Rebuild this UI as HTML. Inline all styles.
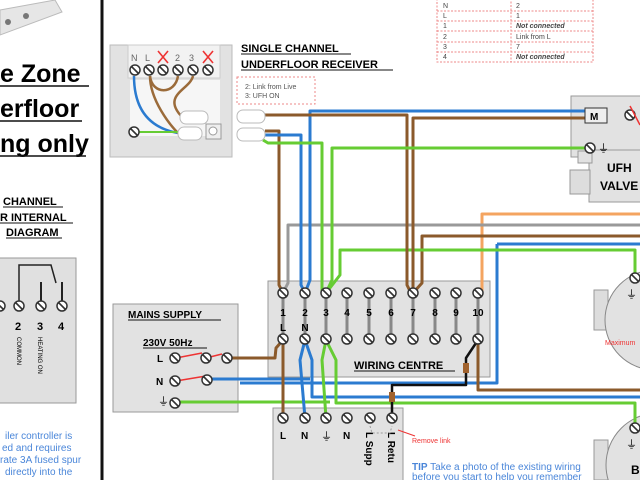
<!DOCTYPE html>
<html><head><meta charset="utf-8"><style>
html,body{margin:0;background:#fff;overflow:hidden;width:640px;height:480px}
svg{display:block}
text{font-family:"Liberation Sans",sans-serif}
</style></head><body>
<svg width="640" height="480" viewBox="0 0 640 480" xmlns="http://www.w3.org/2000/svg">
<defs>
<g id="sc"><circle r="5" fill="#fff" stroke="#333" stroke-width="1.5"/><line x1="-3.5" y1="-3.5" x2="3.5" y2="3.5" stroke="#333" stroke-width="1.6"/></g>
</defs>
<polygon points="0,10 55,0 62,12 0,35" fill="#e6e6e6" stroke="#bbb"/>
<circle cx="8" cy="22" r="3" fill="#777"/><circle cx="26" cy="16" r="3" fill="#777"/>
<line x1="102" y1="0" x2="102" y2="480" stroke="#111" stroke-width="3"/>
<g font-size="25" font-weight="bold">
<text x="0" y="82">e Zone</text>
<text x="0" y="117">erfloor</text>
<text x="0" y="152">ng only</text>
</g>
<line x1="0" y1="86" x2="89" y2="86" stroke="#111" stroke-width="1.5"/>
<line x1="0" y1="121" x2="82" y2="121" stroke="#111" stroke-width="1.5"/>
<line x1="0" y1="156" x2="86" y2="156" stroke="#111" stroke-width="1.5"/>
<g font-size="11" font-weight="bold">
<text x="3" y="205">CHANNEL</text><text x="0" y="221">R INTERNAL</text><text x="6" y="236">DIAGRAM</text>
</g>
<line x1="3" y1="207" x2="63" y2="207" stroke="#111"/><line x1="0" y1="223" x2="73" y2="223" stroke="#111"/><line x1="6" y1="238" x2="62" y2="238" stroke="#111"/>
<rect x="-2" y="258" width="78" height="145" fill="#e0e0e0" stroke="#999"/>
<polyline points="19,305 19,265 51,265 56,283" fill="none" stroke="#222" stroke-width="1.5"/>
<line x1="41" y1="305" x2="41" y2="282" stroke="#222" stroke-width="2"/><line x1="62" y1="305" x2="62" y2="282" stroke="#222" stroke-width="2"/>
<use href="#sc" x="0" y="306"/><use href="#sc" x="19" y="306"/><use href="#sc" x="41" y="306"/><use href="#sc" x="62" y="306"/>
<g font-size="11" font-weight="bold"><text x="15" y="330">2</text><text x="37" y="330">3</text><text x="58" y="330">4</text></g>
<text font-size="6" transform="translate(17,337) rotate(90)">COMMON</text>
<text font-size="6" transform="translate(38,337) rotate(90)">HEATING ON</text>
<g font-size="10" fill="#4a86d9"><text x="5" y="439">iler controller is</text><text x="2" y="451">ed and requires</text><text x="0" y="463">rate 3A fused spur</text><text x="5" y="475">directly into the</text></g>
<!-- receiver -->
<rect x="110" y="45" width="122" height="112" fill="#e2e2e2" stroke="#bbb"/>
<rect x="128" y="45" width="92" height="33" fill="#f2f2f2" stroke="#ccc"/>
<rect x="130" y="80" width="90" height="56" fill="#f6f6f6"/>
<g font-size="9" fill="#666"><text x="131" y="61">N</text><text x="145" y="61">L</text><text x="175" y="61">2</text><text x="189" y="61">3</text></g>
<g stroke="#e33" stroke-width="1.6"><line x1="158" y1="51" x2="168" y2="63"/><line x1="168" y1="51" x2="158" y2="63"/><line x1="203" y1="51" x2="213" y2="63"/><line x1="213" y1="51" x2="203" y2="63"/></g>
<use href="#sc" x="135" y="70"/><use href="#sc" x="149" y="70"/><use href="#sc" x="163" y="70"/><use href="#sc" x="178" y="70"/><use href="#sc" x="193" y="70"/><use href="#sc" x="208" y="70"/>
<path d="M134,76 C134,110 150,128 178,133" fill="none" stroke="#2b7bd0" stroke-width="2.5"/>
<path d="M150,76 C150,100 170,125 178,133" fill="none" stroke="#9b6b3a" stroke-width="2.5"/>
<path d="M150,76 C152,95 175,95 178,76" fill="none" stroke="#9b6b3a" stroke-width="2.5"/>
<path d="M193,76 C190,90 160,95 183,118" fill="none" stroke="#9b6b3a" stroke-width="2.5"/>
<line x1="138" y1="132" x2="178" y2="132" stroke="#6c3" stroke-width="2"/>
<use href="#sc" x="134" y="132"/>
<rect x="180" y="111" width="28" height="13" rx="6" fill="#fff" stroke="#bbb"/>
<rect x="178" y="127" width="24" height="13" rx="6" fill="#fff" stroke="#bbb"/>
<rect x="206" y="124" width="15" height="15" fill="#eee" stroke="#999"/><circle cx="213" cy="131" r="4" fill="#fff" stroke="#999"/>
<g font-size="11" font-weight="bold"><text x="241" y="52">SINGLE CHANNEL</text><text x="241" y="68">UNDERFLOOR RECEIVER</text></g>
<line x1="241" y1="54" x2="351" y2="54" stroke="#111"/><line x1="241" y1="70" x2="393" y2="70" stroke="#111"/>
<rect x="237" y="77" width="78" height="27" fill="#fff" stroke="#e88" stroke-dasharray="2,2"/>
<g font-size="7" fill="#555"><text x="245" y="89">2: Link from Live</text><text x="245" y="98">3: UFH ON</text></g>
<!-- table -->
<g stroke="#e88" stroke-dasharray="2,1.5" fill="none"><rect x="437" y="-2" width="156" height="64"/><line x1="511" y1="-2" x2="511" y2="62"/>
<line x1="437" y1="11" x2="593" y2="11"/><line x1="437" y1="21" x2="593" y2="21"/><line x1="437" y1="31" x2="593" y2="31"/><line x1="437" y1="42" x2="593" y2="42"/><line x1="437" y1="52" x2="593" y2="52"/></g>
<g font-size="7" fill="#444"><text x="443" y="8">N</text><text x="516" y="8">2</text><text x="443" y="18">L</text><text x="516" y="18">1</text><text x="443" y="28">1</text><text x="516" y="28" font-style="italic" font-weight="bold">Not connected</text><text x="443" y="39">2</text><text x="516" y="39">Link from L</text><text x="443" y="49">3</text><text x="516" y="49">7</text><text x="443" y="59">4</text><text x="516" y="59" font-style="italic" font-weight="bold">Not connected</text></g>
<!-- UFH valve -->
<rect x="571" y="96" width="75" height="61" fill="#e2e2e2" stroke="#999"/>
<rect x="589" y="150" width="57" height="52" fill="#e2e2e2" stroke="#999"/>
<rect x="578" y="151" width="14" height="12" fill="#e2e2e2" stroke="#999"/>
<rect x="570" y="170" width="20" height="24" fill="#ddd" stroke="#999"/>
<use href="#sc" x="630" y="115"/><line x1="630" y1="106" x2="640" y2="125" stroke="#e33" stroke-width="1.5"/>
<g font-size="12" font-weight="bold"><text x="607" y="172">UFH</text><text x="600" y="190">VALVE</text></g>
<!-- boxes -->
<rect x="268" y="281" width="222" height="96" fill="#e2e2e2" stroke="#999"/>
<g stroke="#888" stroke-width="3"><line x1="283" y1="295" x2="283" y2="338"/><line x1="305" y1="295" x2="305" y2="338"/><line x1="326" y1="295" x2="326" y2="338"/><line x1="347" y1="295" x2="347" y2="338"/><line x1="369" y1="295" x2="369" y2="338"/><line x1="391" y1="295" x2="391" y2="338"/><line x1="413" y1="295" x2="413" y2="338"/><line x1="435" y1="295" x2="435" y2="338"/><line x1="456" y1="295" x2="456" y2="338"/><line x1="478" y1="295" x2="478" y2="338"/></g>
<rect x="113" y="304" width="125" height="108" fill="#e2e2e2" stroke="#999"/>
<text x="128" y="318" font-size="10" font-weight="bold">MAINS SUPPLY</text><line x1="128" y1="320" x2="221" y2="320" stroke="#111"/>
<text x="143" y="346" font-size="10" font-weight="bold">230V 50Hz</text><line x1="143" y1="348" x2="207" y2="348" stroke="#111"/>
<g font-size="10" font-weight="bold"><text x="157" y="362">L</text><text x="156" y="385">N</text></g>
<text x="158" y="405" font-size="11">⏚</text>
<line x1="176" y1="358" x2="202" y2="353" stroke="#e33" stroke-width="1.5"/><line x1="206" y1="358" x2="222" y2="354" stroke="#e33" stroke-width="1.5"/>
<line x1="176" y1="381" x2="206" y2="376" stroke="#e33" stroke-width="1.5"/>
<rect x="273" y="408" width="130" height="75" fill="#e2e2e2" stroke="#999"/>
<rect x="594" y="290" width="14" height="40" fill="#ddd" stroke="#999"/>
<circle cx="655" cy="320" r="50" fill="#e2e2e2" stroke="#888"/>
<rect x="594" y="440" width="14" height="40" fill="#ddd" stroke="#999"/>
<circle cx="658" cy="465" r="52" fill="#e2e2e2" stroke="#888"/>
<!-- wires -->
<g fill="none" stroke-width="3" stroke-linejoin="round">
<polyline stroke="#f4a460" points="482,293 482,214 640,214"/>
<polyline stroke="#999" points="283,293 288,283 288,225 640,225"/>
<polyline stroke="#8b5a2b" points="413,293 422,283 422,236 640,236"/>
<polyline stroke="#2b7bd0" points="497,244 640,244"/>
<polyline stroke="#2b7bd0" points="240,383 497,383 497,244"/>
<polyline stroke="#6c3" points="326,293 340,275 340,250 635,250 635,275"/>
<polyline stroke="#2b7bd0" points="305,293 310,280 310,111 585,111"/>
<polyline stroke="#8b5a2b" points="265,115 407,115 407,285 411,293"/>
<polyline stroke="#8b5a2b" points="413,293 413,118 585,118"/>
<polyline stroke="#8b5a2b" points="265,131 279,131 279,285 283,293"/>
<polyline stroke="#2b7bd0" points="263,135 301,135 301,285 305,293"/>
<polyline stroke="#6c3" points="263,140 268,143 322,143 322,293"/>
<polyline stroke="#6c3" points="326,293 332,280 332,148 590,148"/>
<polyline stroke="#8b5a2b" points="230,358 275,358 276,348 283,340"/>
<polyline stroke="#2b7bd0" points="210,379 310,379"/>
<polyline stroke="#6c3" points="180,402 330,402"/>
<polyline stroke="#2b7bd0" points="305,340 312,360 312,397 640,397"/>
<polyline stroke="#6c3" points="326,340 336,360 336,403 635,403 635,425"/>
<polyline stroke="#8b5a2b" points="283,340 283,418"/>
<polyline stroke="#2b7bd0" points="305,340 300,360 305,418"/>
<polyline stroke="#6c3" points="326,340 322,360 326,418"/>
<polyline stroke="#8b5a2b" points="478,340 478,390 640,390"/>
<polyline stroke="#111" stroke-width="2.5" points="478,340 466,358 466,385 392,385 392,418"/>
</g>
<rect x="180" y="111" width="28" height="13" rx="6" fill="#fff" stroke="#bbb" opacity="0"/>
<rect x="237" y="110" width="28" height="13" rx="6" fill="#fff" stroke="#bbb"/>
<rect x="237" y="128" width="28" height="13" rx="6" fill="#fff" stroke="#bbb"/>
<rect x="585" y="108" width="22" height="15" fill="#eee" stroke="#333"/><text x="590" y="120" font-size="10" font-weight="bold">M</text>
<rect x="463" y="363" width="6" height="10" fill="#a0622d"/><rect x="389" y="392" width="6" height="10" fill="#a0622d"/>
<g>
<use href="#sc" x="283" y="293"/><use href="#sc" x="305" y="293"/><use href="#sc" x="326" y="293"/><use href="#sc" x="347" y="293"/><use href="#sc" x="369" y="293"/><use href="#sc" x="391" y="293"/><use href="#sc" x="413" y="293"/><use href="#sc" x="435" y="293"/><use href="#sc" x="456" y="293"/><use href="#sc" x="478" y="293"/>
<use href="#sc" x="283" y="339"/><use href="#sc" x="305" y="339"/><use href="#sc" x="326" y="339"/><use href="#sc" x="347" y="339"/><use href="#sc" x="369" y="339"/><use href="#sc" x="391" y="339"/><use href="#sc" x="413" y="339"/><use href="#sc" x="435" y="339"/><use href="#sc" x="456" y="339"/><use href="#sc" x="478" y="339"/>
</g>
<g font-size="10" font-weight="bold" text-anchor="middle"><text x="283" y="316">1</text><text x="305" y="316">2</text><text x="326" y="316">3</text><text x="347" y="316">4</text><text x="369" y="316">5</text><text x="391" y="316">6</text><text x="413" y="316">7</text><text x="435" y="316">8</text><text x="456" y="316">9</text><text x="478" y="316">10</text><text x="283" y="331">L</text><text x="305" y="331">N</text></g>
<text x="354" y="369" font-size="11" font-weight="bold">WIRING CENTRE</text><line x1="354" y1="371" x2="455" y2="371" stroke="#111"/>
<use href="#sc" x="175" y="358"/><use href="#sc" x="206" y="358"/><use href="#sc" x="227" y="358"/><use href="#sc" x="175" y="381"/><use href="#sc" x="207" y="380"/><use href="#sc" x="175" y="403"/>
<use href="#sc" x="283" y="418"/><use href="#sc" x="305" y="418"/><use href="#sc" x="326" y="418"/><use href="#sc" x="347" y="418"/><use href="#sc" x="370" y="418"/><use href="#sc" x="392" y="418"/>
<use href="#sc" x="635" y="278"/><use href="#sc" x="635" y="428"/>
<use href="#sc" x="590" y="148"/><text x="598" y="152" font-size="11">⏚</text>
<g font-size="10" font-weight="bold"><text x="280" y="439">L</text><text x="301" y="439">N</text><text x="343" y="439">N</text></g>
<text x="321" y="440" font-size="11">⏚</text>
<text font-size="10" font-weight="bold" transform="translate(366,432) rotate(90)">L Supp</text>
<text font-size="10" font-weight="bold" transform="translate(388,432) rotate(90)">L Retu</text>
<polyline points="370,426 372,433 390,433 392,426" fill="none" stroke="#999" stroke-dasharray="2,2"/>
<line x1="415" y1="436" x2="398" y2="430" stroke="#e33"/>
<text x="412" y="443" font-size="7" fill="#e33">Remove link</text>
<g font-size="10" fill="#4a86d9"><text x="412" y="470"><tspan font-weight="bold">TIP</tspan> Take a photo of the existing wiring</text><text x="412" y="480">before you start to help you remember</text></g>
<text x="605" y="345" font-size="7" fill="#e33">Maximum</text>
<text x="626" y="298" font-size="11">⏚</text><text x="626" y="448" font-size="11">⏚</text>
<text x="631" y="474" font-size="12" font-weight="bold">B</text>
</svg>
</body></html>
